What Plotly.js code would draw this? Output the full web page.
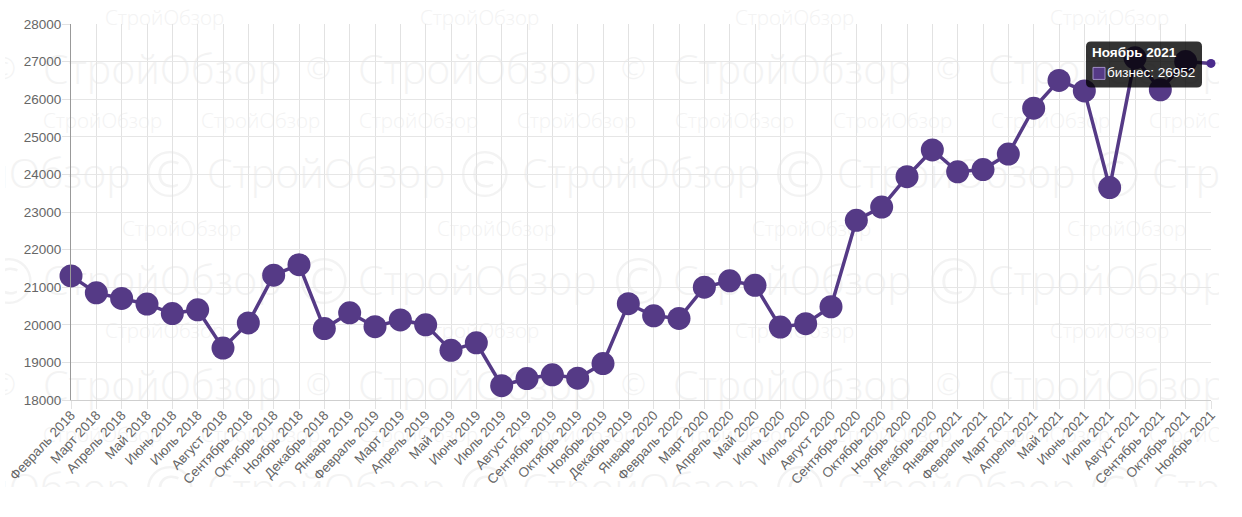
<!DOCTYPE html>
<html><head><meta charset="utf-8">
<script src="https://cdn.plot.ly/plotly-3.0.1.min.js"></script>
<style>
html,body{margin:0;padding:0;background:#fff;overflow:hidden}
#wm{position:absolute;left:5px;top:0;width:1214px;height:487px;overflow:hidden;z-index:0}
#wm span{position:absolute;white-space:nowrap;font-family:"Open Sans",sans-serif;font-weight:300;color:#f3f3f3;line-height:1;transform:translateY(-50%)}
#chart{position:absolute;left:0;top:0;width:1242px;height:517px;z-index:1}
</style></head><body>
<div id="wm"></div><div id="chart"></div>
<script>
const months = ["Февраль 2018","Март 2018","Апрель 2018","Май 2018","Июнь 2018","Июль 2018","Август 2018","Сентябрь 2018","Октябрь 2018","Ноябрь 2018","Декабрь 2018","Январь 2019","Февраль 2019","Март 2019","Апрель 2019","Май 2019","Июнь 2019","Июль 2019","Август 2019","Сентябрь 2019","Октябрь 2019","Ноябрь 2019","Декабрь 2019","Январь 2020","Февраль 2020","Март 2020","Апрель 2020","Май 2020","Июнь 2020","Июль 2020","Август 2020","Сентябрь 2020","Октябрь 2020","Ноябрь 2020","Декабрь 2020","Январь 2021","Февраль 2021","Март 2021","Апрель 2021","Май 2021","Июнь 2021","Июль 2021","Август 2021","Сентябрь 2021","Октябрь 2021","Ноябрь 2021"];
const business = [21300,20850,20700,20550,20300,20400,19380,20050,21320,21600,19900,20320,19950,20130,20000,19320,19520,18380,18570,18670,18580,18970,20560,20240,20170,21000,21170,21050,19940,20030,20480,22780,23130,23940,24650,24070,24130,24540,25760,26500,26220,23650,27100,26250,27000,26952];
const yTicks = [18000,19000,20000,21000,22000,23000,24000,25000,26000,27000,28000];
const seriesName = "бизнес";
const wmText = "СтройОбзор";

// faint background watermark
const wm = document.getElementById("wm");
function put(txt,x,y,size){const s=document.createElement("span");s.textContent=txt;s.style.left=(x-5)+"px";s.style.top=y+"px";s.style.fontSize=size+"px";wm.appendChild(s);}
const bigPeriod=315, bigSize=41, smallSize=20.5;
[[68,43],[172,-108],[279,43],[384,43],[487,-108]].forEach(([y,x0])=>{for(let k=0;k<5;k++)put(wmText,x0+k*bigPeriod,y,bigSize);});
[[172,144],[279,-17],[487,144]].forEach(([y,x0])=>{for(let k=0;k<5;k++)put("©",x0+k*bigPeriod,y,62);});
[[68,-9],[384,-9]].forEach(([y,x0])=>{for(let k=0;k<5;k++)put("©",x0+k*bigPeriod,y,30);});
[[17,105,315],[120,43,158],[228,122,315],[330,105,315],[434,43,158]].forEach(([y,x0,p])=>{for(let x=x0;x<1230;x+=p)put(wmText,x,y,smallSize);});

const last = months.length-1;
const purple = "#553a86";
const trace = {
  type:"scatter", mode:"lines+markers", x:months, y:business, name:seriesName, cliponaxis:false,
  line:{color:purple,width:3.5},
  marker:{color:business.map((v,i)=>i===last?"#4a2a8c":purple), size:business.map((v,i)=>i===last?9:23), opacity:1, line:{width:0}},
  hoverinfo:"none"
};
const anchor = {xref:"x",yref:"y",x:months[last],y:business[last],showarrow:false,xanchor:"left",yanchor:"middle"};
const layout = {
  width:1242,height:517,margin:{l:71,r:31,t:24,b:117,pad:0},
  paper_bgcolor:"rgba(0,0,0,0)",plot_bgcolor:"rgba(0,0,0,0)",showlegend:false,
  font:{family:'"Liberation Sans",Arial,sans-serif',size:13.5,color:"#666"},
  xaxis:{type:"category",range:[0,last],categoryorder:"array",categoryarray:months,tickmode:"array",tickvals:months,ticktext:months,
    tickangle:-47,ticklabelstandoff:-7,showgrid:true,gridcolor:"#e2e2e2",gridwidth:1,ticks:"outside",ticklen:8,tickcolor:"#e2e2e2",tickwidth:1,
    showline:true,linecolor:"#cfcfcf",linewidth:1,zeroline:false,automargin:false,tickfont:{size:13.5,color:"#666"}},
  yaxis:{range:[18000,28000],tickmode:"array",tickvals:yTicks,ticktext:yTicks.map(String),ticklabelstandoff:-2,showgrid:true,gridcolor:"#e6e6e6",gridwidth:1,
    ticks:"outside",ticklen:8,tickcolor:"#e2e2e2",tickwidth:1,showline:true,linecolor:"#999",linewidth:1,zeroline:false,automargin:false,tickfont:{size:13.5,color:"#666"}},
  shapes:[
    {type:"path",layer:"above",xref:"x",yref:"y",xsizemode:"pixel",ysizemode:"pixel",xanchor:months[last],yanchor:business[last],
     path:"M -120 22 L -14 22 Q -9 22 -9 17 L -9 -19 Q -9 -24 -14 -24 L -120 -24 Q -125 -24 -125 -19 L -125 17 Q -125 22 -120 22 Z",
     fillcolor:"rgba(0,0,0,0.8)",line:{width:0}},
    {type:"rect",layer:"above",xref:"x",yref:"y",xsizemode:"pixel",ysizemode:"pixel",xanchor:months[last],yanchor:business[last],
     x0:-118,x1:-106,y0:-16,y1:-4,fillcolor:purple,line:{color:"#a08fc8",width:1}}
  ],
  annotations:[
    Object.assign({},anchor,{text:"<b>"+months[last]+"</b>",xshift:-121,yshift:11,font:{size:13.5,color:"#fff"}}),
    Object.assign({},anchor,{text:seriesName+": "+String(Math.round(business[last])),xshift:-106,yshift:-9,font:{size:13.5,color:"#fff"}})
  ]
};
Plotly.newPlot("chart",[trace],layout,{displayModeBar:false,staticPlot:true});
</script></body></html>
